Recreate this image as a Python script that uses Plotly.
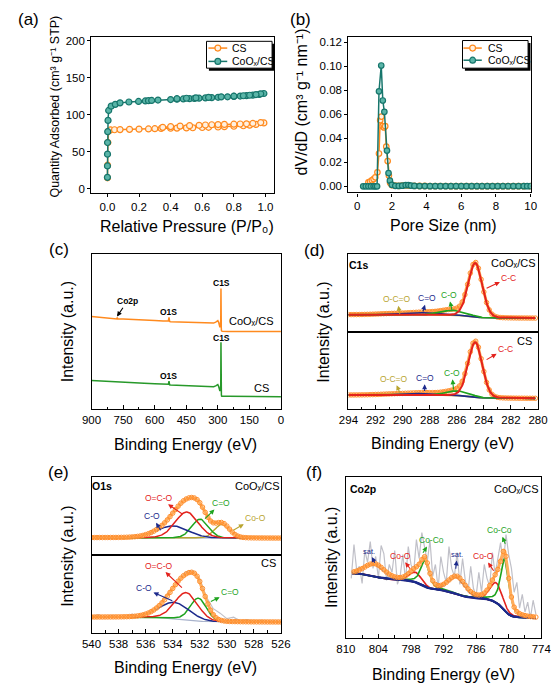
import numpy as np
import plotly.graph_objects as go

W, H = 559, 685
FONT = "Arial, Liberation Sans, sans-serif"

def px(x):
    return x / W

def py(y):
    return 1 - y / H

# ---------------- (a) N2 adsorption isotherm ----------------
iso_cs_p = [0.0005, 0.001, 0.003, 0.008, 0.02, 0.045, 0.08, 0.14, 0.2, 0.26, 0.3, 0.34, 0.4, 0.44,
            0.5, 0.54, 0.6, 0.64, 0.7, 0.74, 0.8, 0.86, 0.9, 0.94, 0.99,
            0.97, 0.92, 0.88, 0.84, 0.8, 0.74, 0.7, 0.66, 0.62, 0.58, 0.52, 0.46, 0.4, 0.35]
iso_cs_q = [15, 32, 62.5, 78, 79.5, 79.8, 80, 80.3, 80.6, 80.9, 81.2, 81.5, 81.8, 82.0,
            82.3, 82.5, 82.8, 83.1, 83.5, 83.9, 84.5, 85.2, 86, 87, 89,
            89.5, 88.3, 87.8, 87.5, 87.3, 87, 86.8, 86.5, 86.2, 85.8, 85.3, 84.7, 84, 83]
iso_co_p = [0.0001, 0.0003, 0.0006, 0.001, 0.002, 0.004, 0.008, 0.024, 0.05, 0.08, 0.136, 0.197,
            0.24, 0.26, 0.28, 0.32, 0.4, 0.44, 0.48, 0.52, 0.55, 0.58, 0.62, 0.66, 0.7, 0.76,
            0.8, 0.84, 0.88, 0.92, 0.96, 0.99,
            0.97, 0.94, 0.9, 0.86, 0.8, 0.72, 0.64, 0.56, 0.5, 0.44]
iso_co_q = [15.6, 31, 46.9, 62.5, 77.2, 92.4, 105.8, 111.6, 114, 116, 117.2, 117.9,
            118.6, 119, 119.3, 119.8, 120.5, 120.9, 121.3, 121.7, 122, 122.3, 122.7, 123.1, 123.5, 124.2,
            124.7, 125.2, 125.8, 126.5, 127.4, 128.6,
            128.2, 127.2, 126.3, 125.6, 125.0, 124.1, 123.4, 122.7, 122.2, 121.6]

# ---------------- (b) pore size distribution ----------------
psd_cs_d = [0.65, 0.75, 0.85, 0.95, 1.05, 1.17, 1.26, 1.33, 1.4, 1.47, 1.55, 1.62, 1.68, 1.76, 1.83,
            1.9, 2.0, 2.2, 2.4, 2.6, 2.8, 3.0, 3.3, 3.6, 3.9, 4.2, 4.5, 4.8, 5.1, 5.4, 5.7, 6.0, 6.3,
            6.6, 6.9, 7.2, 7.5, 7.8, 8.1, 8.4, 8.7, 9.0, 9.3, 9.6, 10.0]
psd_cs_v = [0.0033, 0.004, 0.005, 0.006, 0.0075, 0.0116, 0.0273, 0.055, 0.058, 0.050, 0.049, 0.050,
            0.033, 0.021, 0.009, 0.003, 0.001, 0.0005, 0.0004, 0.0006, 0.0008, 0.0006, 0.0004, 0.0003,
            0.0003, 0.0002, 0.0002, 0.0002, 0.0002, 0.0001, 0.0001, 0.0001, 0.0001, 0.0001, 0.0001,
            0.0001, 0.0001, 0.0001, 0.0001, 0.0001, 0.0001, 0.0001, 0.0001, 0.0001, 0.0001]
psd_co_d = [0.35, 0.5, 0.65, 0.8, 0.95, 1.05, 1.15, 1.26, 1.39, 1.48, 1.57, 1.72, 1.81, 1.89, 2.0,
            2.2, 2.4, 2.6, 2.8, 2.95, 3.1, 3.3, 3.6, 3.9, 4.2, 4.5, 4.8, 5.1, 5.4, 5.7, 6.0, 6.3, 6.6,
            6.9, 7.2, 7.5, 7.8, 8.1, 8.4, 8.7, 9.0, 9.3, 9.6, 9.8, 10.0]
psd_co_v = [0, 0, 0, 0, 0, 0, 0, 0.079, 0.1005, 0.0714, 0.062, 0.0297, 0.011, 0.0047, 0.0012,
            0.0004, 0.0003, 0.0005, 0.0009, 0.0010, 0.0006, 0.0003, 0.0002, 0.0002, 0.0001, 0.0001,
            0.0001, 0.0001, 0.0001, 0.0001, 0.0001, 0.0001, 0.0001, 0.0001, 0.0001, 0.0001, 0.0001,
            0.0001, 0.0001, 0.0001, 0.0001, 0.0001, 0.0001, 0.0001, 0.0001]

# ---------------- (c) XPS survey ----------------
survey_be = [900, 850, 800, 780, 778, 775, 750, 700, 650, 600, 560, 540, 535, 532, 531, 529, 525, 500,
             450, 400, 350, 320, 310, 305, 300, 296, 292, 290, 288, 286, 285.5, 285, 284.5, 284,
             283.5, 283, 282, 280, 250, 200, 150, 100, 50, 0]
survey_coox = [93.4, 92.5, 91.7, 91.0, 92.3, 90.8, 90.9, 90.6, 90.0, 89.4, 88.9, 88.5, 89.0, 92.5,
               91.5, 88.4, 88.2, 88.0, 87.7, 87.4, 87.0, 86.8, 87.8, 89.0, 89.2, 87.5, 83.5, 82.5,
               84.0, 90, 110, 121.5, 118, 100, 82, 79.5, 78.6, 78.5, 78.4, 78.4, 78.3, 78.3, 78.2, 78.2]
survey_cs = [29.0, 28.3, 27.7, 27.4, 27.3, 27.2, 27.0, 26.7, 26.2, 25.7, 25.0, 24.7, 25.2, 28.5,
             27.7, 24.6, 24.4, 24.2, 23.8, 23.4, 23.0, 22.7, 23.6, 24.8, 25.0, 23.0, 19.5, 18.4,
             19.5, 25, 50, 67.4, 64, 45, 20, 14.5, 13.4, 13.3, 13.2, 13.0, 12.9, 12.8, 12.7, 12.7]

# ---------------- (d) C1s fit parameters ----------------
c1s_names = ["C-C", "C-O", "C=O", "O-C=O"]
c1s_fwhm = [1.22, 2.0, 2.4, 3.0]
c1s_center_co = [284.63, 286.3, 288.3, 290.5]
c1s_height_co = [54, 5, 2.3, 1.2]
c1s_bg_co = [14, 17.5]
c1s_center_cs = [284.63, 286.0, 288.3, 290.3]
c1s_height_cs = [55, 4.7, 2.0, 1.2]
c1s_bg_cs = [11, 14.4]

# ---------------- (e) O1s fit parameters + raw ----------------
o1s_names_co = ["O=C-O", "C-O", "C=O", "Co-O"]
o1s_center_co = [532.97, 534.0, 531.97, 530.35]
o1s_height_co = [26, 12, 19, 14]
o1s_fwhm_co = [2.0, 2.7, 1.46, 1.3]
o1s_bg_co = [17.0, 17.5]
o1s_names_cs = ["O=C-O", "C-O", "C=O"]
o1s_center_cs = [533.0, 533.9, 532.1]
o1s_height_cs = [27, 16, 23]
o1s_fwhm_cs = [2.0, 2.6, 1.41]
o1s_bg_cs = [11, 16]
o1s_raw_be = [540, 539.5, 539, 538.5, 538, 537.5, 537, 536.5, 536, 535.5, 535, 534.5, 534, 533.5,
              533, 532.5, 532, 531.5, 531, 530.5, 530, 529.5, 529, 528.5, 528, 527.5, 527, 526.5, 526]
o1s_raw_co = [17.0, 18.2, 17.5, 16.8, 18.6, 17.2, 19.5, 18.0, 21.5, 22.0, 28.5, 33.0, 43.5, 50.5,
              57.5, 57.0, 53.0, 40.5, 33.0, 31.5, 29.5, 21.0, 18.5, 16.6, 17.8, 16.9, 17.6, 17.0, 17.4]
o1s_raw_cs = [16.5, 18.5, 15.5, 17.8, 15.8, 16.6, 19.0, 16.8, 19.5, 22.8, 28.5, 36.5, 45.5, 55.0,
              61.5, 62.5, 54.5, 36.0, 24.5, 20.0, 14.5, 16.0, 12.0, 13.5, 11.0, 12.8, 10.8, 12.0, 11.2]

# ---------------- (f) Co2p fit parameters + raw ----------------
co2p_names = ["sat.", "Co-O", "Co-Co", "sat.", "Co-O", "Co-Co"]
co2p_center = [804.6, 797.2, 795.4, 789.5, 782.3, 780.7]
co2p_height = [12.5, 10, 26, 17, 20, 52]
co2p_fwhm = [4.2, 2.6, 1.9, 3.6, 2.6, 1.8]
co2p_eta = [0.2, 0.3, 0.6, 0.2, 0.3, 0.6]
co2p_bg = [20, 65]
co2p_raw_be = [809, 808.5, 808, 807.5, 807, 806.5, 806, 805.5, 805, 804.5, 804, 803.5, 803, 802.5,
               802, 801.5, 801, 800.5, 800, 799.5, 799, 798.5, 798, 797.5, 797, 796.5, 796, 795.5,
               795, 794.5, 794, 793.5, 793, 792.5, 792, 791.5, 791, 790.5, 790, 789.5, 789, 788.5,
               788, 787.5, 787, 786.5, 786, 785.5, 785, 784.5, 784, 783.5, 783, 782.5, 782, 781.5,
               781, 780.5, 780, 779.5, 779, 778.5, 778, 777.5, 777, 776.5, 776, 775.5, 775]
co2p_raw = [60, 94, 68, 72, 55, 88, 76, 97, 70, 82, 60, 93, 85, 58, 74, 66, 88, 54, 62, 84, 58, 92,
            74, 66, 99, 80, 106, 90, 77, 98, 62, 74, 50, 82, 66, 56, 92, 70, 62, 86, 54, 80, 58, 46,
            72, 50, 42, 66, 46, 74, 60, 52, 86, 64, 78, 96, 74, 104, 84, 70, 46, 56, 30, 44, 26, 36,
            20, 38, 24]

# ---------------- colours ----------------
ORANGE = "#ff8a1e"
ORANGE_FILL = "#fff0e0"
TEAL = "#17766c"
TEAL_FILL = "#5ab5a8"
SURV_GREEN = "#27992a"
RED = "#e3221c"
NAVY = "#1c2a8c"
GREEN = "#1ea31e"
OLIVE = "#b9a531"
GRAY = "#c0c0c8"
ENV_LINE = "#ffad5c"
ENV_MARK = "#ff8f2e"


def pvoigt(x, c, h, fwhm, eta):
    s = fwhm / 2.3548
    g = np.exp(-(x - c) ** 2 / (2 * s * s))
    l = 1.0 / (1.0 + ((x - c) / (fwhm / 2)) ** 2)
    return h * (eta * l + (1 - eta) * g)


def fit(grid, centers, heights, fwhms, etas, bg):
    comps = [pvoigt(grid, c, h, w, e) for c, h, w, e in zip(centers, heights, fwhms, etas)]
    total = np.sum(comps, axis=0)
    cum = np.cumsum(total)
    back = bg[0] + (bg[1] - bg[0]) * cum / cum[-1]
    return [c + back for c in comps], back, total + back


fig = go.Figure()


def line(x, y, ax, color, width=1.5, **kw):
    fig.add_trace(go.Scatter(x=x, y=y, xaxis="x" + ax, yaxis="y" + ax, mode="lines",
                             line=dict(color=color, width=width), hoverinfo="skip", **kw))


def envelope(grid, env, ax, step):
    fig.add_trace(go.Scatter(x=grid, y=env, xaxis="x" + ax, yaxis="y" + ax, mode="lines",
                             line=dict(color=ENV_LINE, width=3), hoverinfo="skip"))
    fig.add_trace(go.Scatter(x=grid[::step], y=env[::step], xaxis="x" + ax, yaxis="y" + ax,
                             mode="markers", hoverinfo="skip",
                             marker=dict(symbol="circle-open", size=4.5, color=ENV_MARK,
                                         line=dict(width=1))))


# (a)
fig.add_trace(go.Scatter(x=iso_cs_p, y=iso_cs_q, xaxis="x", yaxis="y", mode="lines+markers", name="CS",
                         line=dict(color=ORANGE, width=1.5),
                         marker=dict(size=6, color=ORANGE_FILL, line=dict(color=ORANGE, width=1.2))))
fig.add_trace(go.Scatter(x=iso_co_p, y=iso_co_q, xaxis="x", yaxis="y", mode="lines+markers", name="CoOx/CS",
                         line=dict(color=TEAL, width=1.5),
                         marker=dict(size=6, color=TEAL_FILL, line=dict(color=TEAL, width=1.2))))
# (b)
fig.add_trace(go.Scatter(x=psd_cs_d, y=psd_cs_v, xaxis="x2", yaxis="y2", mode="lines+markers", name="CS",
                         line=dict(color=ORANGE, width=1.5),
                         marker=dict(size=5.5, color=ORANGE_FILL, line=dict(color=ORANGE, width=1.2))))
fig.add_trace(go.Scatter(x=psd_co_d, y=psd_co_v, xaxis="x2", yaxis="y2", mode="lines+markers", name="CoOx/CS",
                         line=dict(color=TEAL, width=1.5),
                         marker=dict(size=5.5, color=TEAL_FILL, line=dict(color=TEAL, width=1.2))))
# (c)
line(survey_be, survey_coox, "3", ORANGE, 1.5)
line(survey_be, survey_cs, "3", SURV_GREEN, 1.5)

# (d)
c1s_grid = np.arange(280.2, 294.001, 0.05)
c1s_cols = [RED, GREEN, NAVY, OLIVE]
for ax, cen, hei, bg in (("4", c1s_center_co, c1s_height_co, c1s_bg_co),
                         ("5", c1s_center_cs, c1s_height_cs, c1s_bg_cs)):
    comps, back, env = fit(c1s_grid, cen, hei, c1s_fwhm, [0.1] * 4, bg)
    envelope(c1s_grid, env, ax, 4)
    for i in (3, 2, 1, 0):
        line(c1s_grid, comps[i], ax, c1s_cols[i], 1.6 if i else 2)

# (e)
o1s_grid = np.arange(526.0, 540.001, 0.05)
for ax, cen, hei, fw, bg, raw, cols in (
        ("6", o1s_center_co, o1s_height_co, o1s_fwhm_co, o1s_bg_co, o1s_raw_co, [RED, NAVY, GREEN, OLIVE]),
        ("7", o1s_center_cs, o1s_height_cs, o1s_fwhm_cs, o1s_bg_cs, o1s_raw_cs, [RED, NAVY, GREEN])):
    comps, back, env = fit(o1s_grid, cen, hei, fw, [0.1] * len(cen), bg)
    line(o1s_raw_be, raw, ax, GRAY, 1.2)
    line(o1s_grid, back, ax, "#a9b3cc", 1.2)
    for i in range(len(comps) - 1, -1, -1):
        line(o1s_grid, comps[i], ax, cols[i], 1.5)
    envelope(o1s_grid, env, ax, 4)

# (f)
co2p_grid = np.arange(775.0, 808.81, 0.05)
comps, back, env = fit(co2p_grid, co2p_center, co2p_height, co2p_fwhm, co2p_eta, co2p_bg)
line(co2p_raw_be, co2p_raw, "8", GRAY, 1.2)
co2p_cols = [NAVY, RED, GREEN, NAVY, RED, GREEN]
for i in (1, 2, 4, 5):
    line(co2p_grid, comps[i], "8", co2p_cols[i], 1.6)
line(co2p_grid, back, "8", NAVY, 2.2)
for i in (0, 3):
    line(co2p_grid, comps[i], "8", co2p_cols[i], 1.6)
envelope(co2p_grid, env, "8", 10)

# ---------------- axes ----------------
def dom_x(a, b):
    return [px(a), px(b)]

def dom_y(top, bottom):
    return [py(bottom), py(top)]

base = dict(showline=True, linecolor="black", linewidth=1.3, mirror=True, showgrid=False,
            zeroline=False, tickfont=dict(size=11.5, family=FONT, color="black"),
            tickcolor="black", tickwidth=1.1)

def axis(domain, rng, anchor, **kw):
    d = dict(base)
    d.update(domain=domain, range=rng, anchor=anchor)
    d.update(kw)
    return d

noy = dict(showticklabels=False, ticks="")

layout = dict(
    width=W, height=H, margin=dict(l=0, r=0, t=0, b=0), showlegend=False,
    plot_bgcolor="white", paper_bgcolor="white", font=dict(family=FONT, color="black"),
    xaxis=axis(dom_x(76, 266), [-0.102, 1.057], "y", tickmode="linear", tick0=0, dtick=0.2,
               tickformat=".1f", ticks="outside", ticklen=3),
    yaxis=axis(dom_y(26.7, 184), [-5.36, 205.4], "x", tickmode="linear", tick0=0, dtick=50,
               ticks="outside", ticklen=3),
    xaxis2=axis(dom_x(342.7, 531.7), [-0.5, 10.0], "y2", tickmode="linear", tick0=0, dtick=2,
                ticks="outside", ticklen=3),
    yaxis2=axis(dom_y(26.7, 183.5), [-0.0051, 0.1246], "x2", tickmode="linear", tick0=0, dtick=0.02,
                tickformat=".2f", ticks="outside", ticklen=3),
    xaxis3=axis(dom_x(76.3, 272.7), [900, 0], "y3", tickmode="linear", tick0=0, dtick=150,
                ticks="inside", ticklen=4, minor=dict(ticks="inside", ticklen=2.5, dtick=75)),
    yaxis3=axis(dom_y(245, 401.7), [0, 156.7], "x3", **noy),
    xaxis4=axis(dom_x(342.7, 539.3), [294, 280], "y4", showticklabels=False, ticks=""),
    yaxis4=axis(dom_y(245, 324), [0, 79], "x4", **noy),
    xaxis5=axis(dom_x(342.7, 539.3), [294, 280], "y5", tickmode="linear", tick0=280, dtick=2,
                ticks="inside", ticklen=4, minor=dict(ticks="inside", ticklen=2.5, dtick=1)),
    yaxis5=axis(dom_y(324, 401.7), [0, 77.7], "x5", **noy),
    xaxis6=axis(dom_x(76.3, 272.7), [540, 526], "y6", showticklabels=False, ticks=""),
    yaxis6=axis(dom_y(470, 548.3), [0, 78.3], "x6", **noy),
    xaxis7=axis(dom_x(76.3, 272.7), [540, 526], "y7", tickmode="linear", tick0=526, dtick=2,
                ticks="inside", ticklen=4, minor=dict(ticks="inside", ticklen=2.5, dtick=1)),
    yaxis7=axis(dom_y(548.3, 626.7), [0, 78.4], "x7", **noy),
    xaxis8=axis(dom_x(340, 542.7), [810, 774], "y8", tickmode="linear", tick0=774, dtick=6,
                ticks="inside", ticklen=4, minor=dict(ticks="inside", ticklen=2.5, dtick=3)),
    yaxis8=axis(dom_y(470, 631.7), [0, 161.7], "x8", **noy),
)

ann = []

def txt(x, y, s, size, color="black", bold=False, xanchor="center", angle=0):
    ann.append(dict(x=px(x), y=py(y), xref="paper", yref="paper",
                    text=("<b>%s</b>" % s) if bold else s, showarrow=False,
                    font=dict(size=size, color=color, family=FONT),
                    xanchor=xanchor, yanchor="middle", textangle=angle))

def callout(lx, ly, s, size, color, cx, cy, head_at_label=True, bold=False):
    # label at (lx, ly); arrow line runs between the label and the curve point (cx, cy)
    ann.append(dict(x=px(cx), y=py(cy), xref="paper", yref="paper", ax=lx - cx, ay=ly - cy,
                    text=("<b>%s</b>" % s) if bold else s, showarrow=True,
                    arrowside="start" if head_at_label else "end",
                    arrowhead=2, startarrowhead=2, arrowsize=0.9, startarrowsize=0.9,
                    arrowwidth=1.1, arrowcolor=color, standoff=0, startstandoff=0,
                    font=dict(size=size, color="black" if bold else color, family=FONT)))

# panel letters
for lab, x, y in (("(a)", 11, 10), ("(b)", 293.5, 9.5), ("(c)", 42.5, 241), ("(d)", 307.5, 241.7),
                  ("(e)", 41.5, 465), ("(f)", 307.3, 465)):
    txt(x, y, lab, 17)

# axis titles
txt(38, 97.5, "Quantity Adsorbed (cm³ g⁻¹ STP)", 12.5, angle=-90)
txt(175, 218, "Relative Pressure (P/P₀)", 16)
txt(295, 92.5, "dV/dD (cm³ g⁻¹ nm⁻¹)", 16, angle=-90)
txt(441.3, 216.7, "Pore Size (nm)", 16)
txt(51.7, 323.3, "Intensity (a.u.)", 16, angle=-90)
txt(174.2, 436.7, "Binding Energy (eV)", 16)
txt(316.7, 324.2, "Intensity (a.u.)", 16, angle=-90)
txt(440.3, 435.7, "Binding Energy (eV)", 16)
txt(51.7, 549.2, "Intensity (a.u.)", 16, angle=-90)
txt(174.2, 661.7, "Binding Energy (eV)", 16)
txt(325, 550.8, "Intensity (a.u.)", 16, angle=-90)
txt(441.7, 668, "Binding Energy (eV)", 16)

COX = "CoOₓ/CS"

# legends (a), (b)
shapes = []
def legend_box(x0, y0, x1, y1, rows, lx0, lx1, tx):
    shapes.append(dict(type="rect", xref="paper", yref="paper", x0=px(x0 + 2.5), x1=px(x1 + 2.5),
                       y0=py(y1 + 2.5), y1=py(y0 + 2.5), fillcolor="black", line=dict(width=0), layer="above"))
    shapes.append(dict(type="rect", xref="paper", yref="paper", x0=px(x0), x1=px(x1),
                       y0=py(y1), y1=py(y0), fillcolor="white", line=dict(color="black", width=1), layer="above"))
    for (yy, col, fill, label) in rows:
        shapes.append(dict(type="line", xref="paper", yref="paper", x0=px(lx0), x1=px(lx1),
                           y0=py(yy), y1=py(yy), line=dict(color=col, width=1.5), layer="above"))
        cx = (lx0 + lx1) / 2
        shapes.append(dict(type="circle", xref="paper", yref="paper", x0=px(cx - 3), x1=px(cx + 3),
                           y0=py(yy + 3), y1=py(yy - 3), fillcolor=fill, line=dict(color=col, width=1.2),
                           layer="above"))
        txt(tx, yy, label, 10.5, xanchor="left")

legend_box(195.5, 31.5, 263.5, 58.5, [(38.3, ORANGE, ORANGE_FILL, "CS"), (51.7, TEAL, TEAL_FILL, COX)],
           197.5, 217, 220)
legend_box(461, 30.7, 529, 58.5, [(38.3, ORANGE, ORANGE_FILL, "CS"), (50.5, TEAL, TEAL_FILL, COX)],
           462, 481, 485)

# (c) labels
callout(113, 293, "Co2p", 8.5, "black", 102.7, 308.3, head_at_label=False, bold=True)
txt(155.7, 304, "O1S", 8.5, bold=True)
txt(210.7, 275, "C1S", 8.5, bold=True)
txt(241.7, 313, COX, 11)
txt(210.7, 330, "C1S", 8.5, bold=True)
txt(155.7, 368, "O1S", 8.5, bold=True)
txt(253, 380, "CS", 11)

# (d) labels
txt(353.3, 256.7, "C1s", 10.5, bold=True)
txt(514, 254, COX, 11)
callout(508.3, 269.3, c1s_names[0], 8.5, RED, 486, 280)
callout(446.7, 286.7, c1s_names[1], 8.5, GREEN, 450, 301.7)
callout(424, 290, c1s_names[2], 8.5, NAVY, 420, 303.3)
callout(393.3, 291, c1s_names[3], 8.5, OLIVE, 396, 306)
txt(525, 332.7, "CS", 11)
callout(505, 340.7, c1s_names[0], 8.5, RED, 486, 351.7)
callout(450, 365, c1s_names[1], 8.5, GREEN, 451.7, 381.7)
callout(421.7, 370, c1s_names[2], 8.5, NAVY, 421.7, 383.3)
callout(390, 371, c1s_names[3], 8.5, OLIVE, 396, 385)

# (e) labels
txt(87.5, 478.3, "O1s", 10.5, bold=True)
txt(248, 478.3, COX, 11)
callout(146.7, 490.7, o1s_names_co[0], 8.5, RED, 170, 506.7)
callout(139.3, 509.3, o1s_names_co[1], 8.5, NAVY, 148, 523.3)
callout(210, 496, o1s_names_co[2], 8.5, GREEN, 194, 511.7)
callout(245, 510.7, o1s_names_co[3], 8.5, OLIVE, 223.3, 523.3)
txt(260, 556, "CS", 11)
callout(146.7, 559, o1s_names_cs[0], 8.5, RED, 170, 581)
callout(131.7, 581.7, o1s_names_cs[1], 8.5, NAVY, 160, 594.3)
callout(219.3, 585.7, o1s_names_cs[2], 8.5, GREEN, 200, 595)

# (f) labels
txt(358.3, 481.7, "Co2p", 10.5, bold=True)
txt(516.5, 481.7, COX, 11)
callout(364, 544.3, co2p_names[0], 7.5, NAVY, 370, 556)
callout(396.7, 549, co2p_names[1], 8.5, RED, 406.7, 562)
callout(428.3, 533.3, co2p_names[2], 8.5, GREEN, 420, 546)
callout(455.7, 547.7, co2p_names[3], 7.5, NAVY, 454, 562)
callout(483.3, 549.3, co2p_names[4], 8.5, RED, 493.3, 564)
callout(500, 523.3, co2p_names[5], 8.5, GREEN, 505.3, 537)

layout["annotations"] = ann
layout["shapes"] = shapes
fig.update_layout(**layout)
fig.write_html("out.html")
